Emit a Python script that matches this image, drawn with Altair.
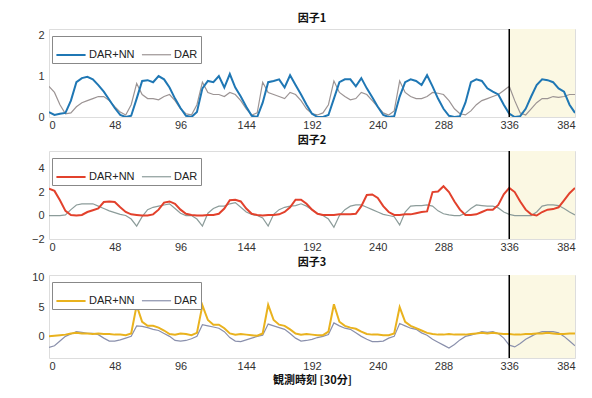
import altair as alt
import pandas as pd

# time grid (every 4 half-hour steps)
steps = list(range(0, 385, 4))

f1_nn = [0.12, 0.05, 0.08, 0.10, 0.40, 0.85, 0.95, 0.98, 0.92, 0.78, 0.62, 0.42,
         0.22, 0.05, 0.00, 0.03, 0.45, 0.88, 0.90, 0.85, 1.00, 0.92, 0.72, 0.45,
         0.22, 0.03, 0.00, 0.12, 0.70, 0.88, 0.85, 1.00, 0.72, 1.05, 0.72, 0.50,
         0.25, 0.03, 0.00, 0.35, 0.85, 0.88, 0.92, 0.72, 1.02, 0.78, 0.55, 0.30,
         0.08, 0.00, 0.00, 0.05, 0.45, 0.85, 0.92, 0.92, 0.75, 0.95, 0.70, 0.48,
         0.25, 0.05, 0.00, 0.02, 0.50, 0.85, 0.92, 0.88, 0.78, 1.02, 0.75, 0.45,
         0.20, 0.03, 0.00, 0.02, 0.35, 0.85, 0.92, 0.88, 0.70, 0.62, 0.55, 0.30,
         0.08, 0.00, 0.02, 0.20, 0.50, 0.78, 0.92, 0.90, 0.85, 0.70, 0.62, 0.30,
         0.10]
f1_dar = [0.75, 0.60, 0.30, 0.08, 0.10, 0.25, 0.35, 0.40, 0.45, 0.50, 0.50, 0.40,
          0.25, 0.12, 0.05, 0.30, 0.82, 0.55, 0.45, 0.45, 0.42, 0.50, 0.55, 0.40,
          0.20, 0.08, 0.05, 0.30, 0.85, 0.60, 0.55, 0.55, 0.50, 0.60, 0.55, 0.40,
          0.20, 0.05, 0.10, 0.85, 0.60, 0.55, 0.50, 0.45, 0.60, 0.55, 0.40, 0.20,
          0.08, 0.05, 0.10, 0.30, 0.88, 0.60, 0.50, 0.42, 0.45, 0.60, 0.55, 0.40,
          0.25, 0.10, 0.05, 0.15, 0.88, 0.60, 0.50, 0.45, 0.45, 0.50, 0.60, 0.58,
          0.55, 0.40, 0.20, 0.08, 0.05, 0.15, 0.30, 0.40, 0.45, 0.50, 0.55, 0.65,
          0.75, 0.40, 0.10, 0.05, 0.20, 0.35, 0.45, 0.45, 0.50, 0.48, 0.50, 0.55,
          0.55]

f2_nn = [2.30, 2.10, 1.30, 0.40, 0.05, 0.00, 0.05, 0.30, 0.45, 0.60, 1.15, 1.20,
         1.15, 0.70, 0.30, 0.10, 0.05, 0.00, 0.00, 0.10, 0.50, 1.10, 1.20, 1.00,
         0.50, 0.15, 0.05, 0.00, 0.00, 0.05, 0.05, 0.15, 0.60, 1.30, 1.35, 1.20,
         0.60, 0.15, 0.05, 0.00, 0.05, 0.05, 0.10, 0.30, 0.70, 1.35, 1.35, 1.00,
         0.50, 0.15, 0.05, 0.05, 0.05, 0.10, 0.10, 0.10, 0.15, 0.80, 1.75, 1.80,
         1.50, 0.80, 0.30, 0.05, 0.05, 0.10, 0.10, 0.20, 0.30, 0.35, 2.00, 2.05,
         2.50, 2.00, 1.20, 0.50, 0.05, 0.05, 0.10, 0.30, 0.50, 0.50, 0.90, 1.80,
         2.35, 2.00, 1.20, 0.50, 0.10, 0.00, 0.30, 0.50, 0.55, 0.70, 1.30, 1.90,
         2.35]
f2_dar = [0.00, 0.00, 0.00, 0.05, 0.50, 0.90, 1.00, 1.00, 1.00, 0.80, 0.60, 0.40,
          0.25, 0.10, 0.00, -0.30, -0.90, -0.10, 0.50, 0.70, 0.80, 0.90, 1.00, 0.60,
          0.20, 0.00, 0.00, -0.30, -0.90, 0.20, 0.60, 0.80, 0.80, 1.00, 1.10, 0.70,
          0.30, 0.10, 0.00, -0.20, -0.90, 0.10, 0.50, 0.70, 0.80, 0.85, 1.00, 0.80,
          0.50, 0.20, 0.00, -0.30, -1.00, 0.00, 0.50, 0.80, 0.90, 0.90, 0.70, 0.50,
          0.30, 0.10, 0.00, -0.10, -0.80, 0.30, 0.80, 0.85, 0.85, 0.90, 0.80, 0.40,
          0.15, 0.05, 0.00, 0.00, 0.20, 0.60, 0.90, 0.85, 0.80, 0.80, 0.65, 0.30,
          0.10, 0.00, 0.00, 0.00, 0.00, 0.30, 0.80, 0.90, 0.90, 0.85, 0.60, 0.30,
          0.05]

f3_nn = [0.00, 0.10, 0.20, 0.30, 0.50, 0.60, 0.50, 0.50, 0.40, 0.50, 0.40, 0.40,
         0.30, 0.30, 0.20, 0.50, 5.30, 2.50, 1.80, 1.80, 1.50, 1.00, 0.40, 0.30,
         0.50, 0.40, 0.20, 0.60, 5.30, 2.80, 2.00, 2.00, 1.40, 0.50, 0.30, 0.40,
         0.30, 0.20, 0.10, 0.50, 5.40, 2.80, 2.00, 1.80, 1.20, 0.50, 0.30, 0.40,
         0.30, 0.20, 0.20, 0.80, 5.50, 2.50, 1.80, 1.50, 1.30, 0.80, 0.40, 0.30,
         0.30, 0.20, 0.20, 0.50, 5.00, 2.50, 1.80, 1.40, 1.00, 0.60, 0.40, 0.30,
         0.30, 0.40, 0.30, 0.30, 0.30, 0.40, 0.50, 0.60, 0.50, 0.60, 0.50, 0.40,
         0.40, 0.30, 0.30, 0.40, 0.40, 0.50, 0.50, 0.60, 0.50, 0.40, 0.40, 0.50,
         0.50]
f3_dar = [-1.90, -1.60, -0.80, 0.00, 0.40, 0.80, 0.70, 0.50, 0.50, 0.30, -0.30, -0.80,
          -0.80, -0.60, -0.30, 0.00, 1.80, 1.70, 1.50, 1.20, 1.00, 0.50, 0.00, -0.70,
          -0.80, -0.70, -0.40, 0.00, 2.00, 1.80, 1.60, 1.40, 0.80, -0.20, -0.80, -0.90,
          -0.60, -0.30, 0.00, 0.20, 2.10, 1.80, 1.50, 1.20, 0.50, -0.30, -0.80, -0.70,
          -0.50, -0.20, 0.00, 0.30, 2.30, 1.80, 1.40, 1.20, 0.60, 0.00, -0.50, -0.90,
          -0.90, -0.80, -0.30, 0.00, 2.20, 1.80, 1.40, 1.20, 0.60, 0.20, -0.50, -1.00,
          -1.50, -2.00, -1.40, -0.60, 0.00, 0.20, 0.50, 0.80, 0.70, 0.80, 0.50, -0.30,
          -1.50, -1.80, -1.20, -0.50, 0.00, 0.50, 0.80, 0.80, 0.80, 0.60, 0.00, -0.80,
          -1.60]

x_ticks = [0, 48, 96, 144, 192, 240, 288, 336, 384]
panel_titles = ["因子1", "因子2", "因子3"]
series_names = ["DAR+NN", "DAR"]
forecast_start = [336]
forecast_end = [384]
x_title = "観測時刻 [30分]"

W = 526
FONT = "Liberation Sans"
JP = "Noto Sans CJK JP"


def panel(nn, dar, title, c_nn, c_dar, ydom, yticks, height, show_xtitle):
    n = len(steps)
    df = pd.DataFrame({
        "t": steps + steps,
        "v": nn + dar,
        "series": [series_names[0]] * n + [series_names[1]] * n,
    })
    shade_df = pd.DataFrame({"t": forecast_start, "b": forecast_end})
    xscale = alt.Scale(domain=[0, 384], nice=False)
    yscale = alt.Scale(domain=ydom, nice=False)
    xaxis = alt.Axis(values=x_ticks, title=x_title if show_xtitle else None,
                     grid=False, ticks=False, labelPadding=2, domain=False,
                     labelFont=FONT, labelFontSize=11, labelColor="#333",
                     titleFont=JP, titleFontSize=11, titleFontWeight="bold",
                     titleColor="#111", titlePadding=3)
    yaxis = alt.Axis(values=yticks, title=None, grid=False, ticks=False,
                     domain=False, labelPadding=5, labelFont=FONT,
                     labelFontSize=11, labelColor="#333",
                     minExtent=32, maxExtent=32)
    color = alt.Color("series:N",
                      scale=alt.Scale(domain=series_names, range=[c_nn, c_dar]),
                      legend=alt.Legend(title=None, orient="none", legendX=3,
                                        legendY=7, direction="horizontal",
                                        symbolType="stroke", symbolSize=850,
                                        symbolStrokeWidth=1.6,
                                        labelFont=FONT, labelFontSize=11,
                                        labelColor="#222", padding=3,
                                        strokeColor="#888", fillColor="white",
                                        columnPadding=4, labelOffset=2,
                                        cornerRadius=0))
    width_enc = alt.StrokeWidth("series:N",
                                scale=alt.Scale(domain=series_names, range=[2.0, 1.2]),
                                legend=None)

    shade = alt.Chart(shade_df).mark_rect(color="#fbf8e3").encode(
        x=alt.X("t:Q", scale=xscale, axis=xaxis),
        x2="b:Q",
        y=alt.value(0),
        y2=alt.value(height),
    )
    base = alt.Chart(df).encode(
        x=alt.X("t:Q", scale=xscale, axis=xaxis),
        y=alt.Y("v:Q", scale=yscale, axis=yaxis),
        color=color,
        strokeWidth=width_enc,
    )
    dar_line = base.transform_filter(alt.datum.series == series_names[1]).mark_line(clip=True)
    nn_line = base.transform_filter(alt.datum.series == series_names[0]).mark_line(clip=True)
    vline = alt.Chart(shade_df).mark_rule(color="black", strokeWidth=1.5).encode(
        x=alt.X("t:Q", scale=xscale, axis=xaxis),
        y=alt.value(0),
        y2=alt.value(height),
    )
    return alt.layer(shade, dar_line, nn_line, vline).properties(
        width=W, height=height,
        title=alt.TitleParams(title, font=JP, fontSize=11, fontWeight="bold",
                              color="#111", offset=4, anchor="middle"),
    )


p1 = panel(f1_nn, f1_dar, panel_titles[0], "#1f77b4", "#9c9494", [0, 2.15], [0, 1, 2], 88, False)
p2 = panel(f2_nn, f2_dar, panel_titles[1], "#e2412c", "#8c9c9a", [-2, 5.5], [-2, 0, 2, 4], 88, False)
p3 = panel(f3_nn, f3_dar, panel_titles[2], "#e9b21e", "#8a90ac", [-3.7, 10.5], [0, 5, 10], 83, True)

chart = alt.vconcat(p1, p2, p3, spacing=3).resolve_scale(
    color="independent", strokeWidth="independent"
).configure_view(stroke="#999", strokeWidth=1).properties(
    padding={"left": 8, "top": 4, "right": 0, "bottom": 0}
).configure(background="white")

chart.save("out.html", embed_options={"renderer": "svg", "actions": False})
